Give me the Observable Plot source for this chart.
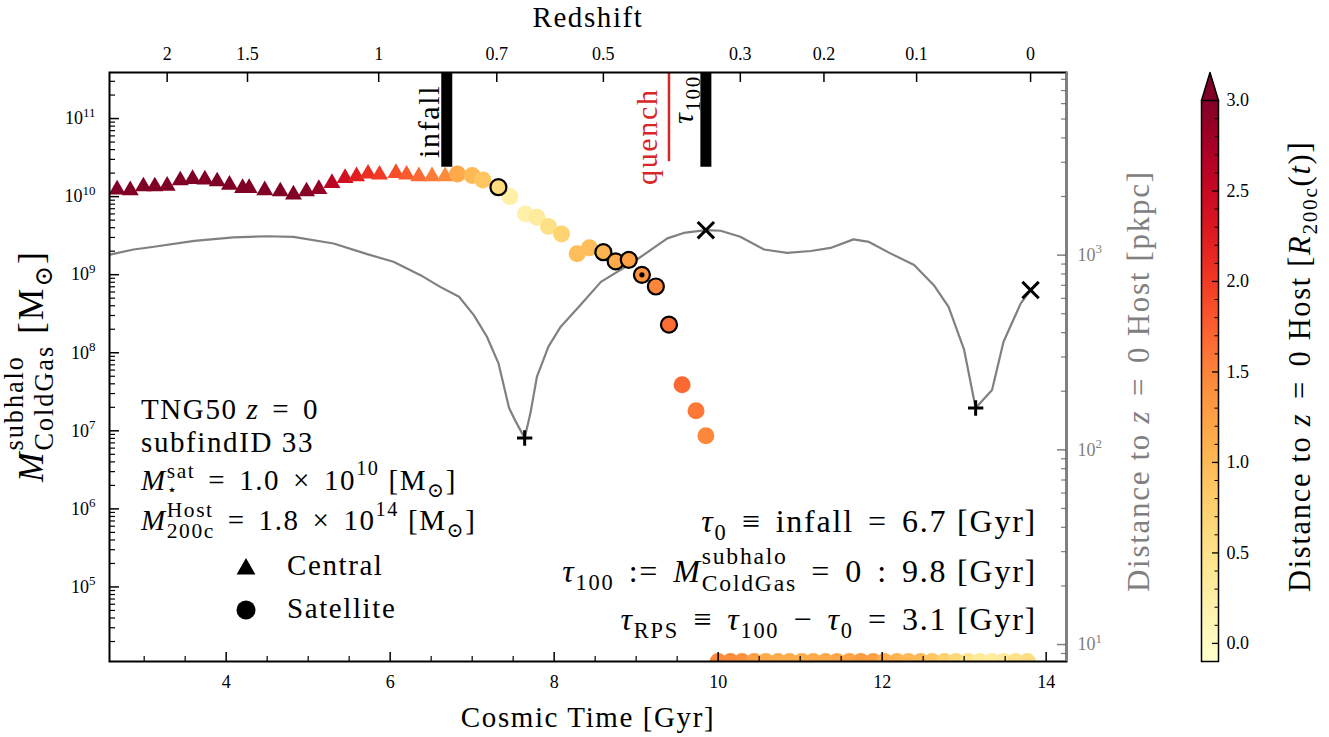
<!DOCTYPE html>
<html><head><meta charset="utf-8">
<script src="https://cdn.jsdelivr.net/npm/d3@7"></script>
<script src="https://cdn.jsdelivr.net/npm/@observablehq/plot@0.6"></script>
<style>
body{margin:0;background:#fff;}
#wrap{position:relative;width:1329px;height:737px;overflow:hidden;font-family:"Liberation Serif","DejaVu Serif",serif;background:#fff;}
#wrap svg{position:absolute;}
.lbl{position:absolute;white-space:nowrap;color:#000;line-height:1;letter-spacing:0.055em;}
.bl{display:inline-block;width:0;height:0;vertical-align:baseline;}
.sup{font-size:0.7em;vertical-align:0.7em;line-height:0;}
.sub{font-size:0.7em;vertical-align:-0.35em;line-height:0;}
.ss{display:inline-block;font-size:0.74em;line-height:1.15;vertical-align:-0.38em;}
.ss.tight{line-height:1.0;}
.ss span{display:block;}
.rel{margin:0 0.14em;}
.star{font-size:0.75em;position:relative;top:-3px;}
</style></head><body><div id="wrap"></div>
<script>
// ---------------- data ----------------
// central (triangles): cosmic time [Gyr], cold gas mass [Msun], distance [R200c]
const centralTime = [2.67,2.83,2.99,3.13,3.28,3.44,3.59,3.74,3.89,4.04,4.20,4.28,4.47,4.66,4.82,4.98,5.13,5.29,5.45,5.59,5.73,5.87,6.07,6.20,6.35,6.51,6.67];
const centralGas  = [1.32e10,1.29e10,1.45e10,1.45e10,1.48e10,1.73e10,1.80e10,1.77e10,1.68e10,1.52e10,1.38e10,1.38e10,1.29e10,1.25e10,1.14e10,1.25e10,1.34e10,1.60e10,1.86e10,1.95e10,2.11e10,2.05e10,2.15e10,2.05e10,1.95e10,1.95e10,1.95e10];
const centralDist = [3,3,3,3,3,3,3,3,3,3,3,3,3,3,3,2.95,2.85,2.6,2.4,2.23,2.08,2.0,1.86,1.77,1.68,1.55,1.43];
// satellite (circles) with nonzero gas
const satTime = [6.82,7.00,7.13,7.32,7.46,7.65,7.79,7.93,8.09,8.28,8.43,8.60,8.75,8.91,9.07,9.24,9.40,9.56,9.73,9.85];
const satGas  = [1.95e10,1.86e10,1.63e10,1.32e10,1.00e10,6.0e9,5.45e9,4.13e9,3.33e9,1.85e9,2.21e9,1.94e9,1.48e9,1.55e9,9.95e8,7.06e8,2.29e8,3.90e7,1.81e7,8.67e6];
const satDist = [1.15,0.98,0.87,0.60,0.23,0.20,0.32,0.52,0.70,0.94,0.94,1.06,1.15,1.25,1.37,1.46,1.65,1.68,1.58,1.46];
const satOutlined = [0,0,0,1,0,0,0,0,0,0,0,1,1,1,1,1,1,0,0,0];
const satDotted   = [0,0,0,0,0,0,0,0,0,0,0,0,0,0,1,0,0,0,0,0];
// satellite snapshots with zero cold gas (drawn on the lower edge)
const zeroTime = [10.00,10.15,10.29,10.44,10.58,10.73,10.87,11.02,11.16,11.31,11.45,11.60,11.74,11.89,12.03,12.18,12.32,12.47,12.61,12.76,12.90,13.05,13.19,13.34,13.48,13.63,13.77];
const zeroDist = [1.45,1.42,1.38,1.25,1.15,1.12,1.12,1.12,1.14,1.15,1.18,1.22,1.28,1.25,1.10,1.05,1.00,0.98,0.85,0.75,0.65,0.45,0.35,0.30,0.35,0.50,0.55];
// distance to z=0 host [pkpc]
const hostTime = [2.58,2.61,2.87,3.12,3.61,4.09,4.50,4.82,5.31,5.72,6.04,6.37,6.61,6.84,7.02,7.18,7.32,7.45,7.53,7.64,7.71,7.79,7.93,8.08,8.32,8.57,8.97,9.38,9.58,9.85,10.03,10.27,10.56,10.84,11.13,11.37,11.65,11.84,12.10,12.39,12.63,12.81,13.00,13.14,13.34,13.48,13.69,13.81];
const hostDist = [1005,1012,1069,1104,1183,1233,1250,1242,1148,1012,925,789,687,611,492,381,279,164,140,115,154,238,339,429,555,729,925,1219,1300,1343,1334,1242,1069,1028,1050,1089,1205,1169,1021,889,701,543,326,164,203,359,565,662];
const periTime = [7.64,13.14], periDist = [115,164];
const apoTime  = [9.85,13.81], apoDist  = [1343,662];
// events
const infallTime = 6.69, tau100Time = 9.85, quenchTime = 9.40;
const barBottomGas = 2.37e10, quenchBottomGas = 2.8e10;
// axes
const redshiftLabels = ["2","1.5","1","0.7","0.5","0.3","0.2","0.1","0"];
const redshiftTimes  = [3.28,4.26,5.86,7.30,8.60,10.27,11.29,12.42,13.81];
const timeTicks = [4,6,8,10,12,14];
const massTicks = [1e5,1e6,1e7,1e8,1e9,1e10,1e11];
const distTicks = [10,100,1000];
const cbarTicks = [0,0.5,1,1.5,2,2.5,3];

// -------------- layout ----------------
const W = 1329, H = 737;
const M = {top:72, right:263, bottom:76, left:109};
const FW = W - M.left - M.right, FH = H - M.top - M.bottom;
const xDomain = [2.577, 14.248];
const massDomain = [10**4.045, 10**11.59];
const distDomain = [10**0.913, 10**3.938];
const colorOpts = {type:"linear", scheme:"ylorrd", domain:[-0.1,3.0], clamp:true};
const FONT = '"Liberation Serif","DejaVu Serif",serif';
const TICKFS = 18;

const central = centralTime.map((t,i)=>({t, gas:centralGas[i], dist:centralDist[i]}));
const sats = satTime.map((t,i)=>({t, gas:satGas[i], dist:satDist[i], outlined:satOutlined[i], dotted:satDotted[i]}));
const zeros = zeroTime.map((t,i)=>({t, dist:zeroDist[i]}));
const host = hostTime.map((t,i)=>({t, d:hostDist[i]}));
const peri = periTime.map((t,i)=>({t, d:periDist[i]}));
const apo = apoTime.map((t,i)=>({t, d:apoDist[i]}));
const bars = [{t:infallTime, bottom:barBottomGas},{t:tau100Time, bottom:barBottomGas}];
const quench = [{t:quenchTime, bottom:quenchBottomGas}];
const zLabelOf = new Map(redshiftTimes.map((t,i)=>[t, redshiftLabels[i]]));

const minorTime = d3.range(3, 14.01, 0.5).filter(v=>!timeTicks.includes(v));
const minorLog = (lo,hi)=>{const a=[];for(let e=Math.floor(Math.log10(lo));e<=Math.ceil(Math.log10(hi));e++)for(let k=2;k<=9;k++){const v=k*10**e;if(v>lo&&v<hi)a.push(v);}return a;};
const massMinor = minorLog(...massDomain);
const distMinor = minorLog(...distDomain);
const expFmt = d => "10^" + Math.round(Math.log10(d));

const wrap = document.getElementById("wrap");

// ---- distance plot (bottom layer) ----
const distPlot = Plot.plot({
  width: W, height: H, marginTop: M.top, marginRight: M.right, marginBottom: M.bottom, marginLeft: M.left,
  style: {background:"transparent", fontFamily: FONT, fontSize: TICKFS+"px", color:"#808080"},
  x: {domain: xDomain, axis: null},
  y: {type:"log", domain: distDomain, axis: null},
  marks: [
    Plot.line(host, {x:"t", y:"d", stroke:"#808080", strokeWidth:2.2, clip:true}),
    Plot.dot(peri, {x:"t", y:"d", symbol:"plus", r:5, stroke:"black", strokeWidth:3}),
    Plot.dot(apo, {x:"t", y:"d", symbol:"times", r:7.5, stroke:"black", strokeWidth:3}),
    Plot.tickY(distTicks, {y:d=>d, insetLeft: FW-9, stroke:"#808080", strokeWidth:1.5}),
    Plot.tickY(distMinor, {y:d=>d, insetLeft: FW-5, stroke:"#808080", strokeWidth:1.2}),
    Plot.axisY({anchor:"right", ticks: distTicks, tickFormat: expFmt, tickSize:0, tickPadding:11, fontSize:TICKFS, fill:"#808080", label:null})
  ]
});
wrap.appendChild(distPlot);

// ---- mass plot (top layer) ----
const massPlot = Plot.plot({
  width: W, height: H, marginTop: M.top, marginRight: M.right, marginBottom: M.bottom, marginLeft: M.left,
  style: {background:"transparent", fontFamily: FONT, fontSize: TICKFS+"px", color:"black"},
  x: {domain: xDomain, label:null},
  y: {type:"log", domain: massDomain, label:null},
  color: colorOpts,
  marks: [
    Plot.ruleX(bars, {x:"t", y1:()=>massDomain[1], y2:"bottom", stroke:"black", strokeWidth:11}),
    Plot.ruleX(quench, {x:"t", y1:()=>massDomain[1], y2:"bottom", stroke:"#d62728", strokeWidth:2.5}),
    Plot.dot(zeros, {x:"t", y:()=>massDomain[0], fill:"dist", r:8.5, clip:true}),
    Plot.dot(central, {x:"t", y:"gas", fill:"dist", symbol:"triangle", r:6.3, dy:2.4}),
    Plot.dot(sats, {x:"t", y:"gas", fill:"dist", r:8.5}),
    Plot.dot(sats.filter(d=>d.outlined), {x:"t", y:"gas", fill:"dist", r:8, stroke:"black", strokeWidth:2.2}),
    Plot.dot(sats.filter(d=>d.dotted), {x:"t", y:"gas", r:2.6, fill:"black"}),
    Plot.frame({stroke:"black", strokeWidth:2}),
    Plot.ruleX([xDomain[1]], {x:d=>d, stroke:"#808080", strokeWidth:2}),
    Plot.tickX(timeTicks, {x:d=>d, insetTop: FH-9, stroke:"black", strokeWidth:1.5}),
    Plot.tickX(minorTime, {x:d=>d, insetTop: FH-5, stroke:"black", strokeWidth:1.2}),
    Plot.tickX(redshiftTimes, {x:d=>d, insetBottom: FH-10, stroke:"black", strokeWidth:1.5}),
    Plot.tickY(massTicks, {y:d=>d, insetRight: FW-10, stroke:"black", strokeWidth:1.5}),
    Plot.tickY(massMinor, {y:d=>d, insetRight: FW-6, stroke:"black", strokeWidth:1.2}),
    Plot.axisX({anchor:"bottom", ticks: timeTicks, tickFormat: d=>String(d), tickSize:0, tickPadding:14, fontSize:TICKFS, label:null}),
    Plot.axisX({anchor:"top", ticks: redshiftTimes, tickFormat: d=>zLabelOf.get(d), tickSize:0, tickPadding:13, fontSize:TICKFS, label:null}),
    Plot.axisY({anchor:"left", ticks: massTicks, tickFormat: expFmt, tickSize:0, tickPadding:14, fontSize:TICKFS, label:null})
  ]
});
wrap.appendChild(massPlot);

// ---- colorbar ----
const cbSteps = d3.range(-0.1, 3.0, 0.01);
const cbMinor = d3.range(-0.1, 3.001, 0.1).map(v=>+v.toFixed(2)).filter(v=>!cbarTicks.includes(v));
const extension = [{x:0,y:3.0},{x:0.5,y:3.155},{x:1,y:3.0}];
const CB = {left:1180, top:60, width:149, height:620, mL:21, mR:111, mT:40, mB:19};
const cbFW = CB.width - CB.mL - CB.mR;
const cbar = Plot.plot({
  width: CB.width, height: CB.height, marginLeft: CB.mL, marginRight: CB.mR, marginTop: CB.mT, marginBottom: CB.mB,
  style: {background:"transparent", fontFamily: FONT, fontSize: TICKFS+"px", color:"black", overflow:"visible"},
  x: {domain:[0,1], axis:null},
  y: {domain:[-0.1,3.0], axis:null},
  color: colorOpts,
  marks: [
    Plot.rectY(cbSteps, {x1:()=>0, x2:()=>1, y1:d=>d, y2:d=>Math.min(d+0.012,3.0), fill:d=>d, shapeRendering:"crispEdges"}),
    Plot.line(extension, {x:"x", y:"y", fill:"#800026", stroke:"black", strokeWidth:1.5}),
    Plot.frame({stroke:"black", strokeWidth:1.5}),
    Plot.tickY(cbarTicks, {y:d=>d, insetLeft: cbFW-6, stroke:"black", strokeWidth:1.3}),
    Plot.tickY(cbMinor, {y:d=>d, insetLeft: cbFW-3.5, stroke:"black", strokeWidth:1}),
    Plot.axisY({anchor:"right", ticks: cbarTicks, tickFormat: d3.format(".1f"), tickSize:0, tickPadding:8, fontSize:TICKFS, label:null})
  ]
});
cbar.style.left = CB.left + "px"; cbar.style.top = CB.top + "px";
wrap.appendChild(cbar);

// superscript tick labels 10^n
const NS = "http://www.w3.org/2000/svg";
for (const svg of [distPlot, massPlot]) {
  svg.querySelectorAll("text").forEach(t => {
    const m = /^10\^(\d+)$/.exec(t.textContent);
    if (!m) return;
    t.textContent = "";
    const a = document.createElementNS(NS, "tspan"); a.textContent = "10";
    const s = document.createElementNS(NS, "tspan"); s.textContent = m[1];
    s.setAttribute("font-size", "0.72em"); s.setAttribute("dy", "-0.6em");
    t.append(a, s);
  });
}

// ---------- text overlays ----------
function addText(html, o) {
  const d = document.createElement("div");
  d.className = "lbl";
  d.innerHTML = html + '<span class="bl"></span>';
  d.style.fontSize = (o.size || 29) + "px";
  if (o.color) d.style.color = o.color;
  d.style.left = "0px"; d.style.top = "0px";
  wrap.appendChild(d);
  const r = d.getBoundingClientRect();
  const b = d.querySelector(".bl").getBoundingClientRect().top - r.top;
  const w = r.width, h = r.height;
  if (!o.rotate) {
    const L = o.align === "right" ? o.x - w : o.align === "center" ? o.x - w / 2 : o.x;
    const T = o.baseline != null ? o.baseline - b : o.cy - h / 2;
    d.style.left = L + "px"; d.style.top = T + "px";
  } else {
    d.style.transformOrigin = "0 0";
    d.style.transform = "rotate(-90deg)";
    const L = o.baselineX != null ? o.baselineX - b : o.cx - h / 2;
    const T = o.end != null ? o.end + w : o.cy + w / 2;
    d.style.left = L + "px"; d.style.top = T + "px";
  }
}
const ss = (sup, sub, cls = "") => `<span class="ss ${cls}"><span>${sup}</span><span>${sub}</span></span>`;
const sub = s => `<span class="sub">${s}</span>`;
const sup = s => `<span class="sup">${s}</span>`;
const rel = s => `<span class="rel">${s}</span>`;
const Msun = `[M${sub("⊙")}]`;

const xs = massPlot.scale("x");
addText("Redshift", {x: 588, align:"center", baseline: 27});
addText("Cosmic Time [Gyr]", {x: 588, align:"center", baseline: 727});
addText(`<i>M</i>${ss("subhalo","ColdGas")} ${Msun}`, {rotate:true, cx: 30, cy: 366, size: 35.5});
addText(`Distance to <i>z</i> ${rel("=")} 0 Host [pkpc]`, {rotate:true, cx: 1138, cy: 381, color:"#808080", size: 31});
addText(`Distance to <i>z</i> ${rel("=")} 0 Host [<i>R</i>${sub("200c")}(<i>t</i>)]`, {rotate:true, cx: 1300, cy: 366, size: 30.5});

addText(`TNG50 <i>z</i> ${rel("=")} 0`, {x: 141, baseline: 419});
addText(`subfindID 33`, {x: 141, baseline: 452});
addText(`<i>M</i>${ss("sat",'<span class="star">⋆</span>')} ${rel("=")} 1.0 ${rel("×")} 10${sup("10")} ${Msun}`, {x: 141, baseline: 490});
addText(`<i>M</i>${ss("Host","200c","tight")} ${rel("=")} 1.8 ${rel("×")} 10${sup("14")} ${Msun}`, {x: 141, baseline: 530});
addText(`Central`, {x: 287, baseline: 575});
addText(`Satellite`, {x: 287, baseline: 618});

addText(`<i>τ</i>${sub("0")} ${rel("≡")} infall ${rel("=")} 6.7 [Gyr]`, {x: 1037, align:"right", baseline: 532, size: 32});
addText(`<i>τ</i>${sub("100")} ${rel(":=")} <i>M</i>${ss("subhalo","ColdGas")} ${rel("=")} 0 ${rel(":")} 9.8 [Gyr]`, {x: 1037, align:"right", baseline: 582, size: 32});
addText(`<i>τ</i>${sub("RPS")} ${rel("≡")} <i>τ</i>${sub("100")} ${rel("−")} <i>τ</i>${sub("0")} ${rel("=")} 3.1 [Gyr]`, {x: 1037, align:"right", baseline: 630, size: 32});

addText(`infall`, {rotate:true, baselineX: xs.apply(infallTime) - 7, end: 85, size: 30});
addText(`quench`, {rotate:true, baselineX: xs.apply(quenchTime) - 11, end: 88, color:"#d62728", size: 30});
addText(`<i>τ</i>${sub("100")}`, {rotate:true, baselineX: xs.apply(tau100Time) - 12, end: 75, size: 30});

// legend symbols
const leg = d3.select(wrap).append("svg").attr("width", W).attr("height", H).style("left","0px").style("top","0px").style("pointer-events","none");
leg.append("path").attr("d", d3.symbol(d3.symbolTriangle, Math.PI*7*7)()).attr("transform","translate(246,569)").attr("fill","black");
leg.append("circle").attr("cx",246).attr("cy",610).attr("r",9.5).attr("fill","black");
</script></body></html>
